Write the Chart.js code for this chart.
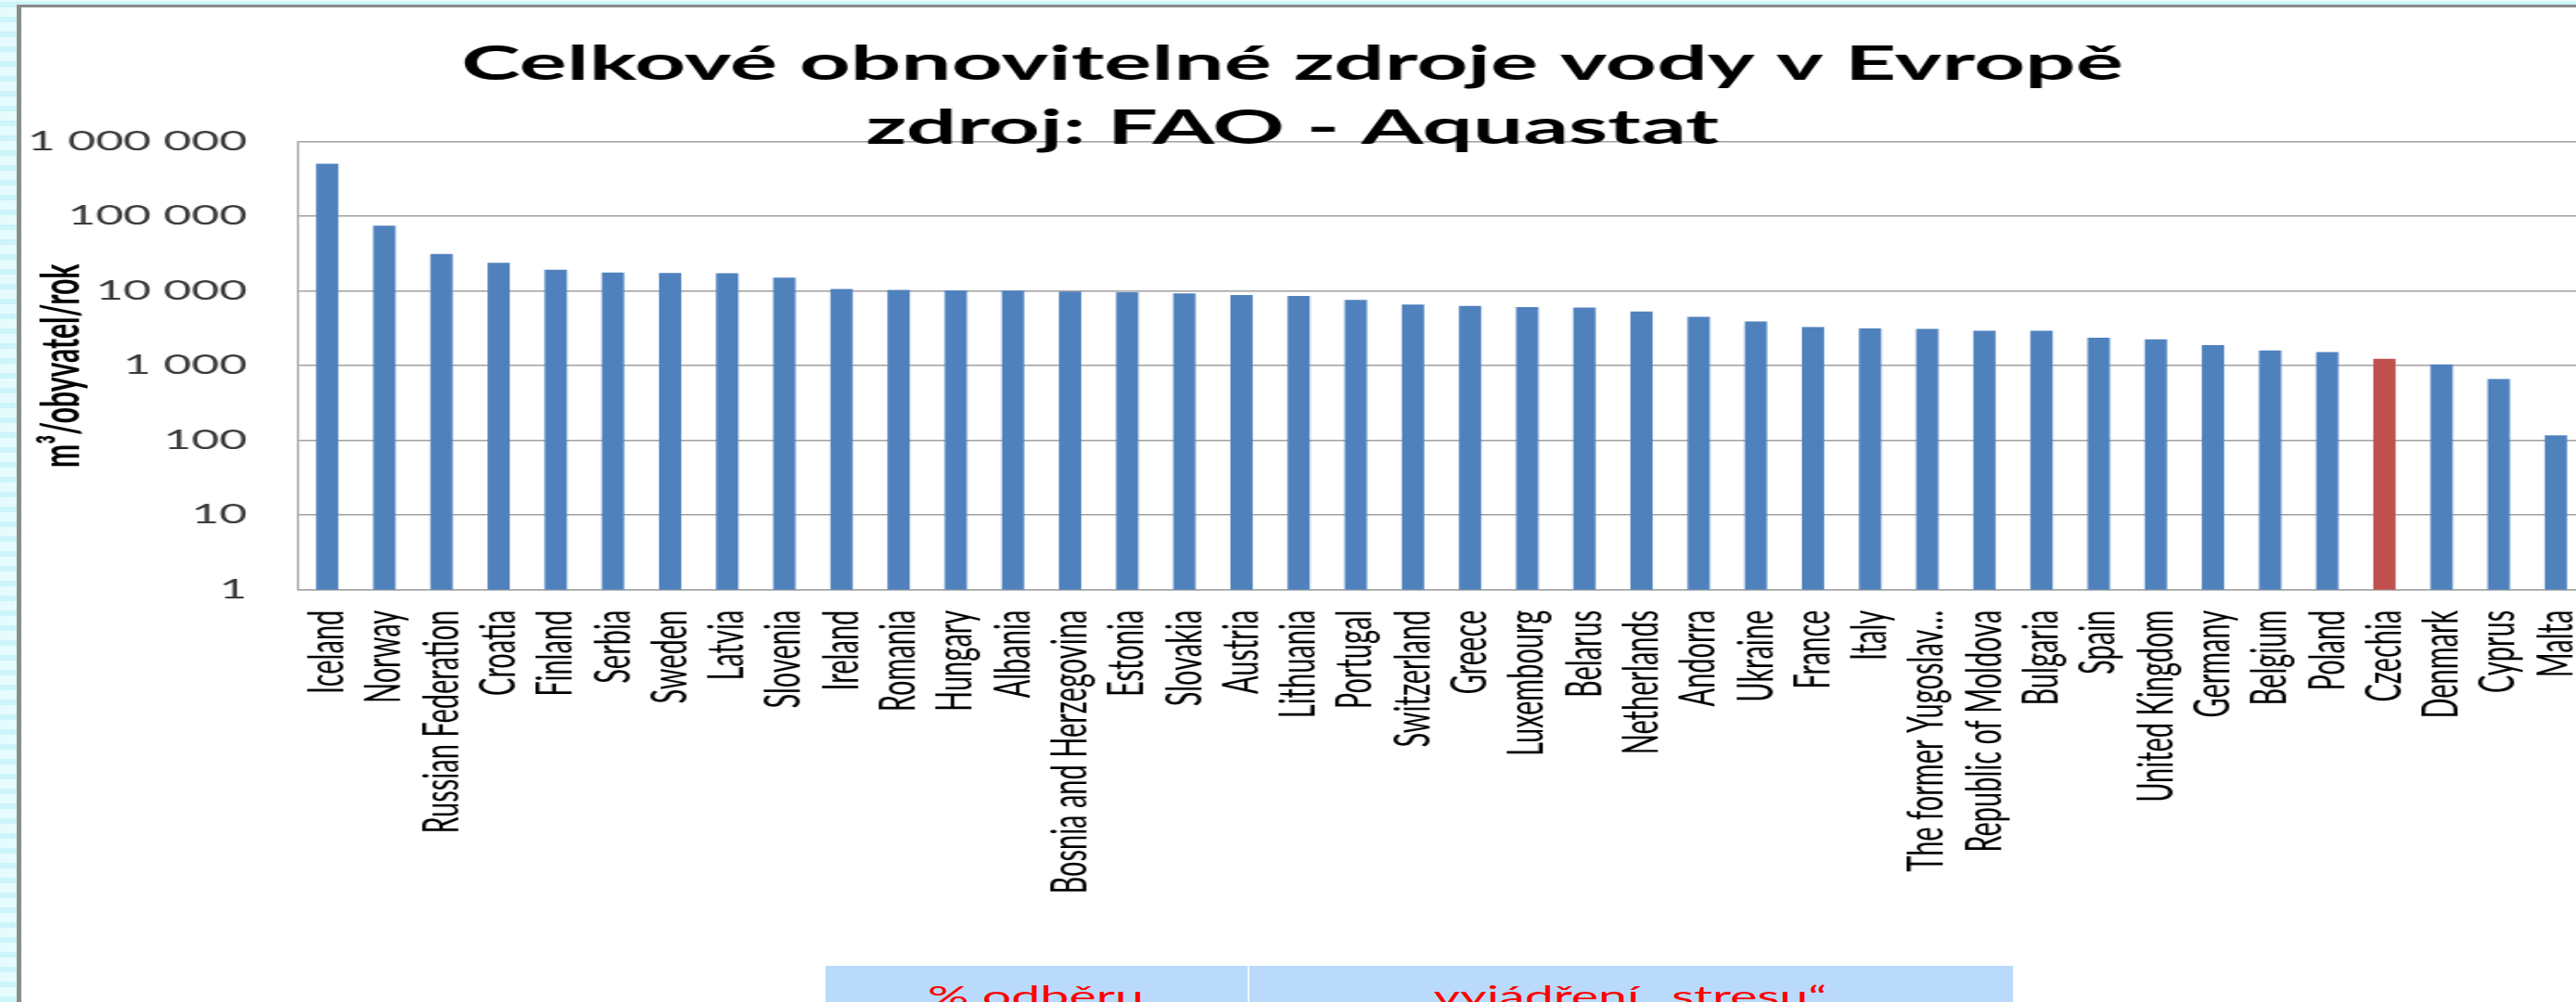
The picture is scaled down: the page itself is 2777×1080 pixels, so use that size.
<!DOCTYPE html>
<html lang="cs">
<head>
<meta charset="utf-8">
<title>Celkové obnovitelné zdroje vody v Evropě</title>
<script src="https://cdn.jsdelivr.net/npm/chart.js@4.4.0/dist/chart.umd.min.js"></script>
<style>
  html, body {
    margin: 0;
    width: 2777px;
    height: 1080px;
    overflow: hidden;
  }
  body {
    position: relative;
    background-color: #e6fbfd;
    background-image: repeating-linear-gradient(0deg, #ccf4f9 0 6px, transparent 6px 16px);
  }
  #frame {
    position: absolute;
    left: 18px;
    top: 5px;
    width: 3000px;
    height: 1200px;
    background: #ffffff;
    border-left: 5px solid #8b8b8b;
    border-top: 3px solid #8b8b8b;
  }
  /* the slide is stretched sideways, so the whole drawing is too */
  #stage {
    position: absolute;
    left: 0;
    top: 0;
    width: 1520px;
    height: 1080px;
    transform-origin: 0 0;
    transform: scaleX(1.85);
    overflow: hidden;
  }
  #chart-box {
    position: absolute;
    left: 0;
    top: 0;
    width: 1520px;
    height: 1080px;
  }
  #stress-table {
    position: absolute;
    left: 480.5px;
    top: 1041px;
    display: flex;
    height: 60px;
    font-family: Lato, sans-serif;
    font-size: 30px;
    line-height: 36px;
    color: #ff0000;
  }
  #stress-table div {
    background: #b9dafb;
    text-align: center;
    padding-top: 14px;
    box-sizing: border-box;
  }
  #stress-table .c1 { width: 247px; border-right: 1px solid #ffffff; }
  #stress-table .c2 { width: 445px; }
</style>
</head>
<body>
<div id="frame"></div>
<div id="stage">
  <div id="chart-box"><canvas id="waterChart"></canvas></div>
  <div id="stress-table">
    <div class="c1">% odběru</div>
    <div class="c2">vyjádření „stresu“</div>
  </div>
</div>

<script>
'use strict';

// země (seřazeno podle zdrojů vody)
var countries = [
  "Iceland", "Norway", "Russian Federation", "Croatia", "Finland", "Serbia",
  "Sweden", "Latvia", "Slovenia", "Ireland", "Romania", "Hungary", "Albania",
  "Bosnia and Herzegovina", "Estonia", "Slovakia", "Austria", "Lithuania",
  "Portugal", "Switzerland", "Greece", "Luxembourg", "Belarus", "Netherlands",
  "Andorra", "Ukraine", "France", "Italy", "The former Yugoslav…",
  "Republic of Moldova", "Bulgaria", "Spain", "United Kingdom", "Germany",
  "Belgium", "Poland", "Czechia", "Denmark", "Cyprus", "Malta"
];

// m3 na obyvatele za rok
var waterPerCapita = [
  505000, 75000, 31200, 23800, 19300, 17600,
  17400, 17300, 15100, 10600, 10300, 10200, 10100,
  9800, 9600, 9300, 8800, 8600,
  7600, 6600, 6300, 6100, 6000, 5300,
  4500, 3900, 3300, 3150, 3100,
  2940, 2930, 2360, 2250, 1890,
  1600, 1520, 1240, 1040, 665, 117
];

// popisky osy y
var yTicks = [1, 10, 100, 1000, 10000, 100000, 1000000];

var highlighted = "Czechia";

var barColors = countries.map(function (c) {
  return c === highlighted ? "#c0504d" : "#4f81bd";
});

// mezery mezi tisíci
function formatNumber(v) {
  return String(v).replace(/\B(?=(\d{3})+(?!\d))/g, " ");
}

var ctx = document.getElementById("waterChart").getContext("2d");

var waterChart = new Chart(ctx, {
  type: "bar",
  data: {
    labels: countries,
    datasets: [
      {
        data: waterPerCapita,
        backgroundColor: barColors,
        categoryPercentage: 1,
        barPercentage: 0.39,
      },
    ],
  },
  options: {
    responsive: true,
    maintainAspectRatio: false,
    animation: false,
    layout: {
      padding: { left: 0, right: 14, top: 0, bottom: 114.3 },
    },
    plugins: {
      legend: { display: false },
      tooltip: { enabled: false },
      title: {
        display: true,
        text: ["Celkové obnovitelné zdroje vody v Evropě", "zdroj: FAO - Aquastat"],
        color: "#000000",
        font: { family: "Lato", size: 52, weight: "bold", lineHeight: 1.325 },
        padding: { top: 35, bottom: -20.2 },
      },
    },
    scales: {
      x: {
        grid: { display: false, drawTicks: false },
        border: { display: true, color: "#a0a0a0", width: 1.2 },
        ticks: {
          autoSkip: false,
          maxRotation: 90,
          minRotation: 90,
          padding: 22,
          color: "#000000",
          font: { family: "Lato", size: 29 },
        },
        afterFit: function (scale) {
          // pevná výška osy a žádné extra odsazení vpravo
          scale.height = 330;
          scale.paddingLeft = 0;
          scale.paddingRight = 0;
        },
      },
      y: {
        type: "logarithmic",
        min: 1,
        max: 1000000,
        grid: { color: "#a0a0a0", lineWidth: 1.5, drawTicks: false },
        border: { display: true, color: "#a0a0a0", width: 1.2 },
        ticks: {
          padding: 30,
          color: "#3a3a3a",
          font: { family: "Lato", size: 28 },
          callback: function (value) {
            return formatNumber(value);
          },
        },
        afterBuildTicks: function (scale) {
          scale.ticks = yTicks.map(function (v) {
            return { value: v };
          });
        },
        afterFit: function (scale) {
          scale.width = 174;
        },
        title: {
          display: true,
          text: "m³/obyvatel/rok",
          color: "#000000",
          font: { family: "Lato", size: 30, weight: "bold", lineHeight: 1.2 },
          padding: { top: 18, bottom: 0 },
        },
      },
    },
  },
});
</script>
</body>
</html>
